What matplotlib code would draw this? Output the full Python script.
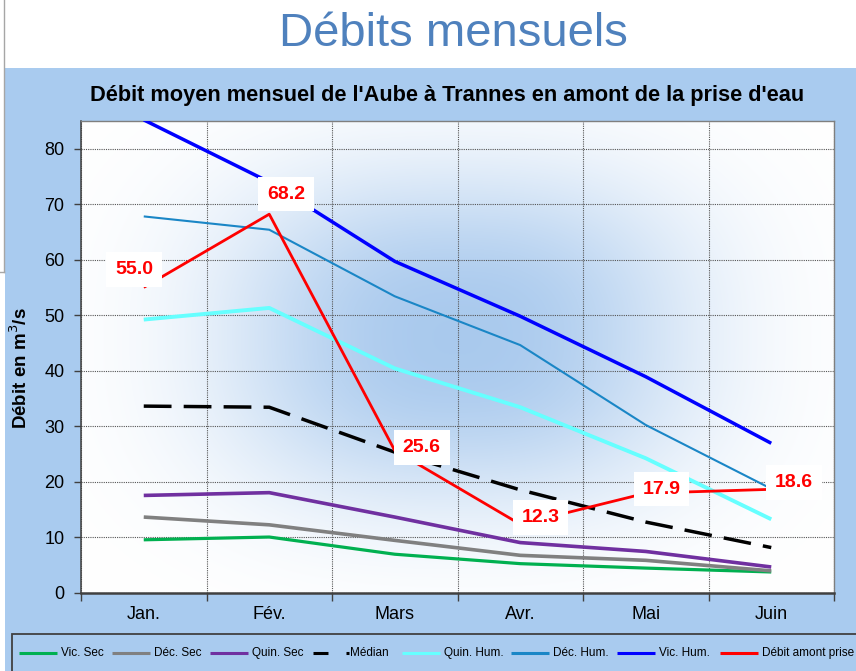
import matplotlib
matplotlib.use('Agg')
import matplotlib.pyplot as plt
import numpy as np
from matplotlib.patches import Rectangle
from matplotlib.lines import Line2D
from matplotlib import font_manager

# ---------------- data ----------------
months = ['Jan.', 'Fév.', 'Mars', 'Avr.', 'Mai', 'Juin']
vic_sec = [9.5, 10.0, 6.9, 5.2, 4.4, 3.7]
dec_sec = [13.6, 12.2, 9.4, 6.7, 5.8, 3.9]
quin_sec = [17.5, 18.0, 13.6, 9.0, 7.4, 4.6]
median = [33.6, 33.4, 25.3, 18.5, 12.7, 8.1]
quin_hum = [49.2, 51.3, 40.4, 33.4, 24.2, 13.2]
dec_hum = [67.8, 65.4, 53.4, 44.6, 30.2, 18.7]
vic_hum = [85.2, 74.0, 59.7, 49.8, 38.9, 26.9]
debit = [55.0, 68.2, 25.6, 12.3, 17.9, 18.6]

series_names = ['Vic. Sec', 'Déc. Sec', 'Quin. Sec', 'Médian',
                'Quin. Hum.', 'Déc. Hum.', 'Vic. Hum.', 'Débit amont prise']
yticks = [0, 10, 20, 30, 40, 50, 60, 70, 80]

# ---------------- fonts ----------------
avail = {f.name for f in font_manager.fontManager.ttflist}
base = 'Liberation Sans' if 'Liberation Sans' in avail else 'DejaVu Sans'
narrow = 'Liberation Sans Narrow' if 'Liberation Sans Narrow' in avail else base
plt.rcParams['font.family'] = [base, 'DejaVu Sans']

W, H = 856, 671
fig = plt.figure(figsize=(W / 100, H / 100), dpi=100)
fig.patch.set_facecolor('white')


def fx(px):
    return px / W


def fy(py):
    return 1 - py / H


# slide decorations
fig.add_artist(Line2D([fx(4), fx(4)], [fy(0), fy(272)], color='#A6A6A6', lw=1.0))
fig.add_artist(Line2D([fx(0), fx(4)], [fy(272), fy(272)], color='#A6A6A6', lw=1.0))
# light blue chart panel
fig.add_artist(Rectangle((fx(5), 0), 1 - fx(5), fy(68), transform=fig.transFigure,
                         facecolor='#A9CBEF', edgecolor='none', zorder=0))
# legend frame (clipped at the figure edge)
fig.add_artist(Rectangle((fx(12), fy(690)), fx(900) - fx(12), fy(634) - fy(690),
                         transform=fig.transFigure, facecolor='none',
                         edgecolor='#404040', lw=1.3, zorder=1))

fig.text(fx(453), fy(46), 'Débits mensuels', ha='center', va='baseline',
         fontsize=34, color='#4F81BD')
fig.text(fx(447), fy(95), "Débit moyen mensuel de l'Aube à Trannes en amont de la prise d'eau",
         ha='center', va='center', fontsize=15.7, fontweight='bold', color='black')

ax = fig.add_axes([fx(81), fy(592.5), fx(834) - fx(81), (592.5 - 121) / H])
ax.set_facecolor('white')

# radial-ish blue gradient in plot area
nx, ny = 300, 200
u = np.linspace(0, 1, nx)
v = np.linspace(0, 1, ny)
gx = np.exp(-(np.abs(u - 0.5) / 0.31) ** 2.5)
gy = np.exp(-(np.abs(v - 0.46) / 0.35) ** 2.5)
I = np.outer(gy, gx) * 0.97
blue = np.array([0.655, 0.785, 0.93])
white = np.array([1.0, 1.0, 1.0])
img = white[None, None, :] * (1 - I[..., None]) + blue[None, None, :] * I[..., None]
ax.imshow(img, extent=[0, 1, 0, 1], transform=ax.transAxes, origin='upper',
          aspect='auto', zorder=0, interpolation='bilinear')

x = np.arange(len(months))
styles = [
    (vic_sec, '#00B050', 2.3, '-'),
    (dec_sec, '#808080', 2.6, '-'),
    (quin_sec, '#7030A0', 2.6, '-'),
    (median, 'black', 2.5, (0, (8, 3.5))),
    (quin_hum, '#66FFFF', 2.8, '-'),
    (dec_hum, '#1A86C6', 1.5, '-'),
    (vic_hum, '#0000FF', 2.5, '-'),
    (debit, '#FF0000', 2.0, '-'),
]
for i, (vals, col, lw, ls) in enumerate(styles):
    ax.plot(x, vals, color=col, lw=lw, ls=ls, zorder=3 + i, solid_capstyle='butt',
            dash_capstyle='butt')

# data labels for the red series
offsets = [(-7, 13), (12, 14.5), (19.5, 2), (14.5, 5), (11.5, 3), (16.5, 5)]
for xi, val, off in zip(x, debit, offsets):
    ax.annotate(f'{val:.1f}', (xi, val), xytext=off, textcoords='offset points',
                ha='center', va='center', fontsize=14, fontweight='bold', color='#FF0000',
                bbox=dict(boxstyle='square,pad=0.45', facecolor='white', edgecolor='none'),
                zorder=20, annotation_clip=False)

ax.set_xlim(-0.5, len(months) - 0.5)
ax.set_ylim(0, 85)
ax.set_yticks(yticks)
ax.set_yticklabels([str(t) for t in yticks], fontsize=13)
ax.set_xticks(x)
ax.set_xticklabels(months, fontsize=13)
ax.set_xticks(np.arange(-0.5, len(months)), minor=True)
ax.tick_params(axis='x', which='major', length=0, pad=10)
ax.tick_params(axis='x', which='minor', length=6, width=1, color='#404040', direction='out')
ax.tick_params(axis='y', which='major', length=5, width=1, color='#404040', direction='out', pad=7)
ax.grid(which='minor', axis='x', ls=(0, (1, 1)), color='#555555', lw=0.8, zorder=1)
ax.grid(which='major', axis='y', ls=(0, (1, 1)), color='#555555', lw=0.8, zorder=1)

ax.set_ylabel('Débit en m$^3$/s', fontsize=13.5, fontweight='bold')
ax.yaxis.set_label_coords(fx(31), fy(368), transform=fig.transFigure)

for side in ['left', 'bottom']:
    ax.spines[side].set_color('#404040')
ax.spines['left'].set_linewidth(1.1)
ax.spines['bottom'].set_linewidth(1.8)
for side in ['top', 'right']:
    ax.spines[side].set_color('#7F7F7F')
    ax.spines[side].set_linewidth(1.0)

# manual legend
handle_x = [19, 112, 210, 313, 402, 511, 617, 720]
ly = fy(653)
for (vals, col, lw, ls), name, hx in zip(styles, series_names, handle_x):
    if name == 'Médian':
        fig.add_artist(Line2D([fx(hx), fx(hx + 36)], [ly, ly], color=col, lw=2.2,
                              ls=(0, (4.9, 5.9, 1.0, 20)), solid_capstyle='butt',
                              dash_capstyle='butt'))
        tx = hx + 37
    else:
        fig.add_artist(Line2D([fx(hx), fx(hx + 38)], [ly, ly], color=col, lw=2.2,
                              solid_capstyle='butt'))
        tx = hx + 42
    fig.text(fx(tx), ly, name, ha='left', va='center', fontsize=8.5,
             family=[narrow, 'DejaVu Sans'], color='black')

fig.savefig('out.png', dpi=100)
